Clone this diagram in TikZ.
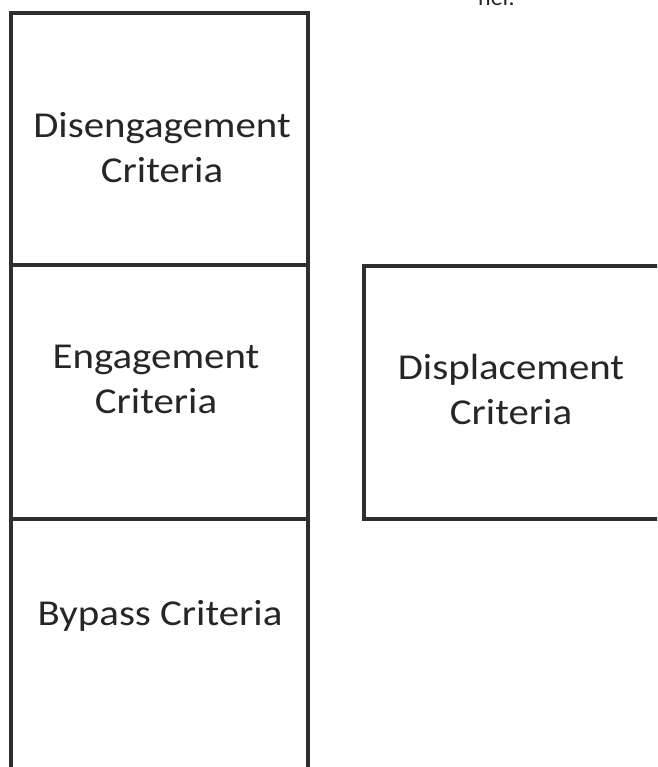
\documentclass[tikz,border=0pt]{standalone}
\usepackage{fontspec}
\setmainfont{Carlito}
\tikzset{
  box/.style={draw=black!82, line width=3.5pt, fill=none},
  lbl/.style={font=\fontsize{36.5}{45}\selectfont, text=black!85, align=center, inner sep=0pt, xscale=1.12, transform shape},
  captxt/.style={font=\fontsize{24}{28}\selectfont, text=black!85, inner sep=0pt, anchor=base west}
}
\begin{document}
\begin{tikzpicture}[x=1pt,y=-1pt]
\useasboundingbox (0,0) rectangle (657,767);
\clip (0,0) rectangle (657,767);
% column boxes
\node[box, minimum width=297pt, minimum height=252pt] (dis) at (159.5,139) {};
\node[box, minimum width=297pt, minimum height=254pt] (eng) at (159.5,392) {};
\node[box, minimum width=297pt, minimum height=290pt] (byp) at (159.5,664) {};
\node[box, minimum width=330pt, minimum height=253pt] (dsp) at (529,392.5) {};
% labels (base anchor = baseline of last line)
\node[lbl, anchor=base] (tdis) at (162,183) {Disengagement\\Criteria};
\node[lbl, anchor=base] (teng) at (156,413) {Engagement\\Criteria};
\node[lbl, anchor=base] (tbyp) at (160,625) {Bypass Criteria};
\node[lbl, anchor=base] (tdsp) at (511,424) {Displacement\\Criteria};
\node[captxt] (ner) at (478,6) {ner.};
\end{tikzpicture}
\end{document}
